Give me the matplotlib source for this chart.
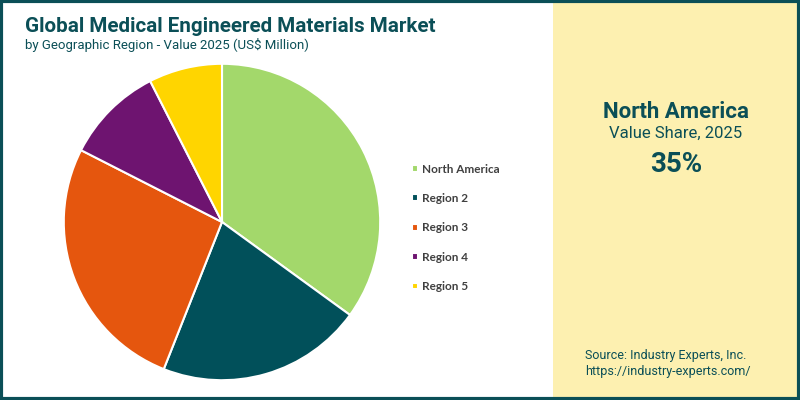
import matplotlib.pyplot as plt
from matplotlib.patches import Rectangle

# data
regions = ["North America", "Region 2", "Region 3", "Region 4", "Region 5"]
shares = [35, 21, 26.5, 10, 7.5]
colors = ["#a3d86b", "#01505a", "#e5560e", "#6e1470", "#ffd500"]

teal = "#0b4f57"
panel_color = "#fdf0b0"

fig = plt.figure(figsize=(8, 4), dpi=100)
fig.patch.set_facecolor("white")

# right side highlight panel
fig.patches.append(Rectangle((553 / 800, 0), 247 / 800, 1, transform=fig.transFigure,
                             facecolor=panel_color, edgecolor="none", zorder=0))
# outer frame
fig.patches.append(Rectangle((0.0012, 0.0025), 0.9976, 0.995, transform=fig.transFigure,
                             facecolor="none", edgecolor=teal, linewidth=3, zorder=5))

# title block
fig.text(25 / 800, 1 - 27 / 400, "Global Medical Engineered Materials Market",
         family="Roboto", weight="bold", fontsize=14.9, color=teal, va="center")
fig.text(25 / 800, 1 - 45 / 400, "by Geographic Region - Value 2025 (US$ Million)",
         family="Roboto", fontsize=9.5, color=teal, va="center")

# pie
ax = fig.add_axes([63 / 800, 19 / 400, 318 / 800, 318 / 400])
wedges, _ = ax.pie(shares, colors=colors, startangle=90, counterclock=False,
                   wedgeprops=dict(edgecolor="white", linewidth=1.5))
ax.set_xlim(-1.005, 1.005)
ax.set_ylim(-1.005, 1.005)
ax.set_aspect("equal")

# legend
leg = fig.legend(wedges, regions, loc="upper left", bbox_to_anchor=(401 / 800, 1 - 153 / 400),
                 frameon=False, handlelength=0.5, handleheight=0.5, handletextpad=0.4,
                 labelspacing=1.56, prop={"family": "Lato", "size": 8.5, "weight": "bold"})
for t in leg.get_texts():
    t.set_color("#404040")

# highlight text
cx = 676 / 800
fig.text(cx, 1 - 112 / 400, "North America", family="Roboto", weight="bold",
         fontsize=16, color=teal, ha="center", va="center")
fig.text(cx, 1 - 133 / 400, "Value Share, 2025", family="Roboto",
         fontsize=12, color=teal, ha="center", va="center")
fig.text(cx, 1 - 165 / 400, "%d%%" % shares[0], family="Roboto", weight="bold",
         fontsize=20, color=teal, ha="center", va="center")

fig.text(585 / 800, 1 - 356 / 400, "Source: Industry Experts, Inc.", family="Roboto",
         fontsize=9, color=teal, va="center")
fig.text(585 / 800, 1 - 372 / 400, "https://industry-experts.com/", family="Roboto",
         fontsize=9, color=teal, va="center")

fig.savefig("out.png", dpi=100)
